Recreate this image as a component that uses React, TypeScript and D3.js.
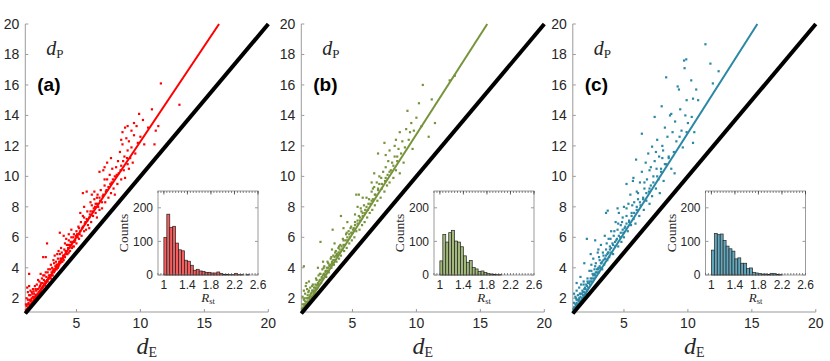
import React from "react";
import * as d3 from "d3";

// panel styling
const panelLabels = ["(a)", "(b)", "(c)"];
const lineColors = ["#ff0000", "#77933c", "#2b87a3"];
const histColors = ["#f45e5e", "#a3b97c", "#63a8be"];
// dE at which the fitted line reaches dP = 20
const fitEnds = [16.15, 15.54, 15.43];

// main axes ticks
const xTicks = [5, 10, 15, 20];
const yTicks = [2, 4, 6, 8, 10, 12, 14, 16, 18, 20];

// inset (histogram of R_st)
const binStart = 1.0;
const binWidth = 0.05;
const insetXTicks = [1, 1.4, 1.8, 2.2, 2.6];
const insetYTicks = [0, 100, 200];

const countsA = [112, 181, 142, 145, 95, 75, 72, 44, 41, 29, 14, 17, 12, 11, 8, 8, 6, 6, 9, 5, 2, 2, 1, 1, 5, 1, 1, 0, 1, 0, 0, 0];
const countsB = [42, 121, 98, 126, 133, 101, 98, 84, 57, 38, 43, 22, 18, 10, 12, 7, 4, 3, 2, 1, 1, 0, 0, 0, 0, 0, 0, 0, 0, 0, 0, 0];
const countsC = [74, 124, 120, 122, 103, 86, 78, 71, 48, 51, 35, 35, 19, 21, 8, 6, 4, 3, 3, 2, 5, 4, 2, 1, 0, 0, 0, 0, 0, 0, 0, 0];

// scatter points [dE, dP]
const pointsA: [number, number][] = [
  [1.05, 1.2], [1.1, 1.5], [1.15, 1.3], [1.2, 1.9], [1.25, 1.4], [1.3, 1.6], [1.3, 2.2], [1.35, 1.5], [1.4, 1.8], [1.4, 2.5],
  [1.45, 1.6], [1.5, 2.0], [1.5, 1.7], [1.55, 2.3], [1.6, 1.8], [1.6, 2.6], [1.65, 2.0], [1.7, 1.9], [1.7, 2.3], [1.75, 2.8],
  [1.8, 2.0], [1.8, 2.2], [1.85, 2.5], [1.9, 2.1], [1.9, 2.9], [1.95, 2.3], [2.0, 2.2], [2.0, 2.6], [1.2, 2.4], [1.1, 2.0],
  [1.3, 2.8], [1.15, 2.7], [1.3, 3.6], [2.2, 3.6], [2.0, 3.2],
  [2.05, 2.4], [2.1, 2.7], [2.1, 3.1], [2.15, 2.5], [2.2, 2.9], [2.25, 2.6], [2.3, 3.3], [2.3, 2.7], [2.35, 3.0], [2.4, 2.8],
  [2.45, 3.2], [2.5, 2.9], [2.5, 3.5], [2.55, 3.1], [2.6, 3.0], [2.65, 3.4], [2.7, 3.2], [2.75, 3.7], [2.8, 3.3], [2.85, 3.5],
  [2.9, 3.4], [2.95, 3.9], [3.0, 3.5], [3.0, 3.3], [2.4, 4.7], [2.6, 4.7], [2.7, 5.6],
  [3.05, 3.7], [3.1, 4.0], [3.15, 3.5], [3.2, 3.9], [3.25, 4.3], [3.3, 3.8], [3.35, 4.1], [3.4, 4.4], [3.45, 3.9], [3.5, 4.2],
  [3.55, 4.6], [3.6, 4.1], [3.65, 4.4], [3.7, 4.9], [3.75, 4.3], [3.8, 4.6], [3.85, 5.0], [3.9, 4.4], [3.95, 4.8], [4.0, 4.5],
  [3.7, 6.3], [4.0, 6.1], [3.3, 4.8], [3.6, 5.1],
  [4.05, 5.2], [4.1, 4.7], [4.2, 5.0], [4.25, 5.5], [4.3, 4.9], [4.35, 5.3], [4.4, 5.8], [4.5, 5.1], [4.5, 5.5], [4.6, 6.0],
  [4.65, 5.3], [4.7, 5.7], [4.8, 5.4], [4.8, 6.2], [4.9, 5.8], [5.0, 5.6], [5.0, 6.4], [4.4, 6.2], [4.6, 6.5], [4.2, 5.9],
  [5.1, 6.0], [5.15, 6.7], [5.2, 5.9], [5.3, 6.4], [5.35, 7.0], [5.4, 6.1], [5.5, 6.7], [5.5, 7.4], [5.6, 6.4], [5.7, 7.0],
  [5.75, 6.5], [5.8, 7.2], [5.85, 7.7], [5.9, 6.8], [6.0, 7.3], [6.0, 6.6], [5.5, 8.9], [5.8, 9.0], [5.3, 7.6], [5.6, 8.0],
  [6.1, 7.7], [6.15, 7.0], [6.2, 8.1], [6.3, 7.4], [6.35, 7.9], [6.4, 8.5], [6.5, 7.6], [6.5, 8.2], [6.6, 7.3], [6.65, 8.8],
  [6.7, 8.0], [6.8, 7.8], [6.8, 8.6], [6.9, 9.1], [7.0, 8.3], [7.0, 7.9], [6.8, 10.3], [7.1, 10.4], [6.4, 9.0], [6.2, 8.8],
  [7.1, 8.8], [7.2, 9.4], [7.25, 8.3], [7.3, 9.0], [7.4, 9.8], [7.5, 8.6], [7.5, 9.3], [7.6, 10.1], [7.7, 8.9], [7.75, 9.6],
  [7.8, 10.5], [7.9, 9.2], [8.0, 10.0], [8.0, 8.8], [7.4, 10.9], [7.7, 11.2], [7.2, 10.6],
  [8.1, 10.6], [8.2, 9.5], [8.25, 11.0], [8.3, 10.2], [8.4, 11.6], [8.5, 9.8], [8.5, 10.7], [8.6, 12.1], [8.7, 10.4], [8.75, 11.3],
  [8.8, 9.9], [8.9, 12.5], [9.0, 10.8], [9.0, 11.7], [8.6, 12.9], [8.8, 13.2], [8.5, 12.4],
  [9.1, 10.5], [9.1, 12.3], [9.2, 11.2], [9.3, 13.0], [9.3, 11.9], [9.4, 10.9], [9.5, 12.7], [9.6, 11.5], [9.7, 13.3], [9.8, 12.2],
  [9.9, 14.1], [10.0, 12.6], [9.0, 13.3], [10.2, 13.7], [9.5, 13.5],
  [10.3, 12.1], [10.9, 14.4], [11.1, 12.1], [11.2, 13.0], [11.4, 13.3], [11.6, 16.1], [13.05, 14.7], [10.6, 13.2],
];
// the dense band close to the fitted line
const denseA: [number, number][] = [
  [1.1, 1.25], [1.2, 1.35], [1.25, 1.7], [1.35, 1.9], [1.45, 1.9], [1.55, 1.75], [1.6, 2.1], [1.75, 2.1], [1.85, 2.2], [1.95, 2.6],
  [2.05, 2.3], [2.15, 2.8], [2.25, 3.0], [2.35, 2.7], [2.45, 2.9], [2.55, 2.85], [2.65, 3.1], [2.75, 3.1], [2.85, 3.3], [2.95, 3.5],
  [3.05, 3.5], [3.15, 3.8], [3.25, 3.7], [3.35, 3.9], [3.45, 4.2], [3.55, 4.0], [3.65, 4.2], [3.75, 4.6], [3.85, 4.4], [3.95, 4.6],
  [4.05, 4.8], [4.15, 5.1], [4.25, 4.9], [4.35, 5.5], [4.45, 5.3], [4.55, 5.7], [4.65, 5.6], [4.75, 6.0], [4.85, 5.7], [4.95, 6.1],
  [5.05, 6.2], [5.25, 6.2], [5.45, 6.6], [5.65, 6.9], [5.85, 7.1], [6.05, 7.5], [6.25, 7.7], [6.45, 8.0], [6.6, 8.2], [6.85, 8.4],
  [7.05, 8.7], [7.35, 9.1], [7.65, 9.5], [7.85, 9.8], [8.15, 10.1], [8.45, 10.4], [8.65, 11.0], [8.95, 11.2], [1.05, 1.6], [1.2, 1.6],
  [1.4, 2.2], [1.5, 2.4], [1.65, 2.45], [1.8, 2.6], [2.2, 2.4], [2.4, 3.5], [2.6, 3.7], [2.8, 3.9], [3.0, 4.2], [3.2, 4.5],
  [3.5, 4.9], [3.8, 5.3], [4.1, 5.6], [4.4, 5.0], [4.7, 5.4], [5.2, 6.6], [5.6, 7.3], [6.1, 8.3], [6.6, 8.6], [7.2, 9.8],
];

const pointsB: [number, number][] = [
  [1.05, 1.3], [1.1, 1.6], [1.15, 1.4], [1.2, 1.9], [1.25, 1.5], [1.3, 1.8], [1.3, 2.3], [1.35, 1.6], [1.4, 2.0], [1.45, 2.6],
  [1.5, 1.8], [1.5, 2.2], [1.55, 2.0], [1.6, 2.5], [1.65, 2.1], [1.7, 1.9], [1.7, 2.7], [1.75, 2.3], [1.8, 2.1], [1.85, 2.5],
  [1.9, 2.9], [1.95, 2.4], [2.0, 2.3], [2.0, 2.7], [1.2, 2.5], [1.4, 3.0], [1.2, 4.1], [1.6, 3.1], [1.1, 2.1], [1.35, 2.8],
  [2.05, 2.5], [2.1, 2.9], [2.15, 2.6], [2.2, 3.2], [2.25, 2.7], [2.3, 3.0], [2.35, 3.5], [2.4, 2.9], [2.45, 3.2], [2.5, 3.6],
  [2.55, 3.0], [2.6, 3.4], [2.65, 3.9], [2.7, 3.3], [2.75, 3.6], [2.8, 4.1], [2.85, 3.5], [2.9, 3.8], [2.95, 3.4], [3.0, 4.0],
  [2.5, 5.7], [2.3, 4.0], [2.7, 4.4],
  [3.05, 3.8], [3.1, 4.3], [3.15, 3.7], [3.2, 4.1], [3.3, 4.6], [3.35, 4.0], [3.4, 4.3], [3.45, 6.5], [3.5, 4.8], [3.55, 4.2],
  [3.6, 4.5], [3.7, 5.1], [3.75, 4.4], [3.8, 4.8], [3.9, 5.3], [3.95, 4.6], [4.0, 5.0], [3.4, 5.2], [3.6, 5.6],
  [4.05, 5.5], [4.1, 4.8], [4.1, 7.4], [4.2, 5.2], [4.3, 5.8], [4.35, 5.1], [4.4, 5.5], [4.5, 6.2], [4.55, 5.3], [4.6, 5.8],
  [4.7, 6.4], [4.75, 5.6], [4.8, 6.0], [4.9, 6.7], [4.95, 5.8], [5.0, 6.3], [4.6, 7.0], [4.3, 6.6],
  [5.1, 6.6], [5.15, 6.0], [5.2, 7.0], [5.3, 6.4], [5.3, 8.8], [5.4, 6.9], [5.5, 8.8], [5.5, 7.4], [5.55, 6.5], [5.6, 7.1],
  [5.7, 7.7], [5.75, 6.8], [5.8, 7.4], [5.9, 8.1], [5.95, 7.0], [6.0, 7.6], [5.4, 8.0], [5.8, 8.6],
  [6.1, 8.0], [6.15, 7.3], [6.2, 7.8], [6.3, 8.5], [6.35, 7.6], [6.4, 8.2], [6.5, 9.0], [6.55, 7.8], [6.6, 8.5], [6.7, 9.3],
  [6.7, 10.2], [6.75, 8.1], [6.8, 8.8], [6.9, 9.6], [6.95, 8.4], [7.0, 9.1], [7.0, 11.5], [6.5, 9.6],
  [7.1, 9.5], [7.2, 8.6], [7.25, 9.9], [7.3, 9.2], [7.4, 10.3], [7.5, 12.2], [7.5, 9.0], [7.55, 9.7], [7.6, 10.6], [7.7, 9.4],
  [7.75, 10.1], [7.8, 11.0], [7.9, 9.6], [8.0, 10.4], [7.6, 11.4], [7.9, 11.7],
  [8.1, 10.9], [8.2, 9.9], [8.3, 11.3], [8.4, 12.4], [8.4, 10.4], [8.5, 11.0], [8.6, 11.8], [8.7, 10.2], [8.8, 11.5], [8.9, 12.3],
  [9.0, 10.9], [8.3, 12.0], [8.7, 12.9],
  [9.1, 11.9], [9.2, 13.1], [9.3, 14.3], [9.4, 12.4], [9.6, 13.5], [9.7, 11.8], [9.8, 13.0], [10.0, 13.85], [10.2, 14.8], [10.5, 16.0],
  [10.96, 12.6], [11.2, 15.05], [11.45, 13.5], [12.6, 16.3], [13.0, 16.6], [9.5, 12.9], [10.4, 13.3],
];
const denseB: [number, number][] = [
  [1.1, 1.35], [1.2, 1.6], [1.3, 1.6], [1.4, 1.75], [1.5, 2.0], [1.6, 2.0], [1.7, 2.2], [1.8, 2.35], [1.9, 2.5], [2.0, 2.5],
  [2.1, 2.7], [2.2, 2.85], [2.3, 2.9], [2.4, 3.1], [2.5, 3.2], [2.6, 3.3], [2.7, 3.5], [2.8, 3.6], [2.9, 3.7], [3.0, 3.8],
  [3.1, 4.0], [3.2, 4.2], [3.3, 4.2], [3.4, 4.4], [3.5, 4.5], [3.6, 4.7], [3.7, 4.8], [3.8, 4.9], [3.9, 5.0], [4.0, 5.2],
  [4.15, 5.4], [4.3, 5.5], [4.45, 5.8], [4.6, 6.0], [4.75, 6.2], [4.9, 6.3], [5.05, 6.5], [5.2, 6.8], [5.4, 7.1], [5.6, 7.3],
  [5.8, 7.6], [6.0, 7.8], [6.25, 8.2], [6.5, 8.4], [6.75, 8.8], [7.0, 9.2], [7.3, 9.5], [7.6, 9.9], [7.9, 10.3], [8.2, 10.7],
  [8.5, 11.3], [1.25, 2.0], [1.55, 2.4], [1.85, 2.8], [2.15, 3.3], [2.45, 3.6], [2.75, 4.0], [3.05, 4.4], [3.35, 4.7], [3.65, 5.0],
  [3.95, 5.4], [4.25, 5.9], [4.55, 6.3], [4.85, 6.6], [5.2, 7.5], [5.65, 7.9], [6.1, 8.6], [6.6, 9.2], [7.1, 10.0],
];

const pointsC: [number, number][] = [
  [1.05, 1.3], [1.1, 1.7], [1.15, 1.4], [1.2, 2.1], [1.25, 1.5], [1.3, 1.9], [1.3, 2.5], [1.35, 1.6], [1.4, 2.2], [1.45, 1.8],
  [1.5, 2.7], [1.5, 2.0], [1.55, 1.8], [1.6, 2.3], [1.65, 2.9], [1.7, 2.0], [1.75, 2.5], [1.8, 2.2], [1.85, 3.1], [1.9, 2.4],
  [1.9, 4.3], [1.95, 2.7], [2.0, 2.3], [1.3, 3.0], [1.6, 3.4], [1.1, 2.3],
  [2.05, 2.9], [2.1, 5.9], [2.1, 2.5], [2.15, 3.3], [2.2, 2.7], [2.25, 3.0], [2.3, 3.8], [2.35, 2.9], [2.4, 3.3], [2.45, 4.2],
  [2.5, 3.1], [2.55, 3.6], [2.6, 4.6], [2.65, 3.3], [2.7, 3.9], [2.75, 5.8], [2.75, 3.5], [2.8, 4.3], [2.9, 3.7], [2.95, 5.0],
  [3.0, 4.0], [3.0, 5.2], [2.4, 4.9],
  [3.05, 3.7], [3.1, 4.5], [3.15, 4.0], [3.2, 5.5], [3.25, 4.3], [3.3, 3.9], [3.4, 4.8], [3.45, 4.2], [3.5, 6.1], [3.55, 4.6],
  [3.6, 7.6], [3.6, 5.2], [3.7, 4.5], [3.73, 7.75], [3.75, 5.0], [3.8, 5.9], [3.85, 4.7], [3.9, 5.4], [4.0, 6.4], [4.0, 5.0],
  [4.1, 5.6], [4.15, 4.9], [4.2, 6.1], [4.3, 5.4], [4.35, 7.0], [4.4, 5.8], [4.5, 6.5], [4.55, 5.4], [4.6, 7.6], [4.7, 6.0],
  [4.75, 6.8], [4.8, 5.7], [4.9, 7.3], [4.95, 6.3], [5.0, 8.0], [5.0, 6.0], [4.5, 7.9],
  [5.1, 6.7], [5.2, 9.5], [5.2, 7.4], [5.3, 6.4], [5.35, 8.2], [5.4, 7.0], [5.5, 8.8], [5.55, 6.8], [5.6, 7.6], [5.7, 9.7],
  [5.74, 9.9], [5.75, 7.2], [5.8, 8.3], [5.9, 6.9], [5.95, 11.1], [6.0, 7.8], [6.0, 9.0],
  [6.1, 8.5], [6.2, 7.4], [6.25, 9.6], [6.3, 8.1], [6.4, 12.8], [6.4, 10.3], [6.5, 8.6], [6.55, 7.8], [6.6, 9.2], [6.7, 10.9],
  [6.75, 8.4], [6.8, 9.8], [6.9, 11.5], [6.95, 9.0], [7.0, 8.2], [7.0, 10.4],
  [7.1, 9.4], [7.2, 11.95], [7.2, 8.7], [7.3, 10.0], [7.4, 13.9], [7.4, 11.0], [7.5, 9.2], [7.55, 10.5], [7.6, 12.4], [7.7, 9.8],
  [7.75, 11.3], [7.8, 8.9], [7.95, 14.6], [7.9, 10.3], [8.0, 12.0],
  [8.06, 11.7], [8.1, 9.7], [8.2, 13.2], [8.3, 16.5], [8.3, 10.8], [8.4, 12.6], [8.5, 11.3], [8.6, 14.0], [8.7, 14.1], [8.7, 10.5],
  [8.8, 12.9], [8.9, 11.6], [8.96, 10.2], [9.0, 13.6],
  [9.1, 12.3], [9.2, 15.9], [9.3, 15.7], [9.35, 12.6], [9.4, 14.4], [9.5, 13.0], [9.6, 11.9], [9.7, 17.6], [9.74, 17.1], [9.8, 14.0],
  [9.87, 17.68], [9.9, 15.0], [9.9, 12.9], [10.0, 13.5],
  [10.26, 16.3], [10.4, 15.1], [10.4, 12.2], [10.3, 13.9], [10.65, 15.7], [10.8, 15.0], [10.5, 12.9], [11.37, 18.67], [11.76, 17.4],
  [11.95, 16.1], [12.4, 16.9],
];
const denseC: [number, number][] = [
  [1.1, 1.4], [1.2, 1.6], [1.3, 1.7], [1.4, 1.9], [1.5, 1.9], [1.6, 2.1], [1.7, 2.3], [1.8, 2.4], [1.9, 2.6], [2.0, 2.6],
  [2.1, 2.8], [2.2, 3.0], [2.3, 3.1], [2.4, 3.1], [2.5, 3.3], [2.6, 3.5], [2.7, 3.6], [2.8, 3.7], [2.9, 3.9], [3.0, 3.9],
  [3.1, 4.1], [3.2, 4.3], [3.3, 4.4], [3.4, 4.5], [3.5, 4.6], [3.6, 4.8], [3.7, 4.9], [3.8, 5.0], [3.9, 5.2], [4.0, 5.3],
  [4.15, 5.5], [4.3, 5.7], [4.45, 5.9], [4.6, 6.1], [4.75, 6.3], [4.9, 6.5], [5.05, 6.6], [5.2, 6.9], [5.4, 7.1], [5.6, 7.4],
  [5.8, 7.6], [6.0, 8.0], [6.25, 8.3], [6.5, 8.5], [6.75, 8.9], [7.0, 9.2], [7.3, 9.6], [7.6, 10.0], [7.9, 10.5], [8.2, 10.8],
  [8.5, 11.2], [1.25, 2.0], [1.55, 2.3], [1.85, 2.9], [2.15, 3.1], [2.45, 3.8], [2.75, 4.1], [3.05, 4.7], [3.35, 5.0], [3.65, 5.6],
  [3.95, 5.9], [4.25, 6.4], [4.55, 6.9], [4.85, 7.0], [5.2, 7.9], [5.65, 8.1], [6.1, 8.9], [6.6, 9.6], [7.1, 10.6], [7.5, 11.6],
  [8.0, 11.2],
];

const allPoints = [pointsA.concat(denseA), pointsB.concat(denseB), pointsC.concat(denseC)];
const allCounts = [countsA, countsB, countsC];
const panelLefts = [25.3, 301.3, 572.8];

const axisGray = "#9b9b9b";
const textDark = "#262626";
const sans = "Liberation Sans, Arial, sans-serif";
const serif = "Liberation Serif, serif";

function Panel({ i }: { i: number }) {
  const left = panelLefts[i];
  const x = d3.scaleLinear().domain([1, 20]).range([left, left + 243]);
  const y = d3.scaleLinear().domain([1, 20]).range([313.5, 24]);
  const bottom = 312;

  const iLeft = left + 132.7;
  const ix = d3.scaleLinear().domain([0.9, 2.6]).range([iLeft, iLeft + 100]);
  const iy = d3.scaleLinear().domain([0, 250]).range([275, 191]);
  const counts = allCounts[i];
  const minor = d3.range(0.9, 2.6001, 0.05);

  const line = d3.line<[number, number]>().x((d) => x(d[0])).y((d) => y(d[1]));
  const color = lineColors[i];

  return (
    <g>
      {/* axes */}
      <line x1={left} x2={left} y1={24} y2={bottom} stroke={axisGray} strokeWidth={1} />
      <line x1={left} x2={x(20)} y1={bottom} y2={bottom} stroke={axisGray} strokeWidth={1} />
      {yTicks.map((t) => (
        <g key={"y" + t}>
          <line x1={left} x2={left + 3} y1={y(t)} y2={y(t)} stroke={axisGray} />
          <text x={left - 6} y={y(t) + 5} textAnchor="end" fontSize={14} fill={textDark} fontFamily={sans}>
            {t}
          </text>
        </g>
      ))}
      {xTicks.map((t) => (
        <g key={"x" + t}>
          <line x1={x(t)} x2={x(t)} y1={bottom} y2={bottom - 3} stroke={axisGray} />
          <text x={x(t)} y={328} textAnchor="middle" fontSize={14} fill={textDark} fontFamily={sans}>
            {t}
          </text>
        </g>
      ))}
      <text x={x(10.5)} y={354} textAnchor="middle" fontSize={24} fill={textDark} fontFamily={serif} fontStyle="italic">
        d<tspan fontStyle="normal" fontSize={14} dy={3}>E</tspan>
      </text>
      <text x={left + 21} y={55} fontSize={20} fill={textDark} fontFamily={serif} fontStyle="italic">
        d<tspan fontStyle="normal" fontSize={13} dy={2.5}>P</tspan>
      </text>
      <text x={left + 12} y={91} fontSize={19} fontWeight="bold" fill="#000" fontFamily={sans}>
        {panelLabels[i]}
      </text>

      {/* scatter */}
      {allPoints[i].map((p, k) => (
        <rect key={k} x={x(p[0]) - 1.1} y={y(p[1]) - 1.1} width={2.2} height={2.2} fill={color} />
      ))}
      {/* fitted line and identity line */}
      <path d={line([[1, 1], [fitEnds[i], 20]]) || ""} stroke={color} strokeWidth={2} fill="none" />
      <path d={line([[1, 1], [20, 20]]) || ""} stroke="#000" strokeWidth={4} fill="none" />

      {/* inset histogram */}
      <rect x={iLeft} y={iy(250)} width={100} height={iy(0) - iy(250)} fill="#fff" stroke={axisGray} strokeWidth={1} />
      {counts.map((c, k) =>
        c > 0 ? (
          <rect
            key={k}
            x={ix(binStart + k * binWidth)}
            y={iy(c)}
            width={ix(binStart + (k + 1) * binWidth) - ix(binStart + k * binWidth)}
            height={iy(0) - iy(c)}
            fill={histColors[i]}
            stroke="#222"
            strokeWidth={0.7}
          />
        ) : null
      )}
      {minor.map((t, k) => (
        <g key={"m" + k}>
          <line x1={ix(t)} x2={ix(t)} y1={iy(250)} y2={iy(250) + 2} stroke="#555" strokeWidth={0.7} />
          <line x1={ix(t)} x2={ix(t)} y1={iy(0)} y2={iy(0) - 2} stroke="#555" strokeWidth={0.7} />
        </g>
      ))}
      {insetXTicks.map((t) => (
        <g key={"ix" + t}>
          <line x1={ix(t)} x2={ix(t)} y1={iy(250)} y2={iy(250) + 3.5} stroke="#444" strokeWidth={0.8} />
          <text x={ix(t)} y={288.5} textAnchor="middle" fontSize={12} fill={textDark} fontFamily={sans}>
            {t}
          </text>
        </g>
      ))}
      {insetYTicks.map((t) => (
        <g key={"iy" + t}>
          <line x1={iLeft} x2={iLeft + 3} y1={iy(t)} y2={iy(t)} stroke={axisGray} />
          <line x1={iLeft + 100} x2={iLeft + 97} y1={iy(t)} y2={iy(t)} stroke={axisGray} />
          <text x={iLeft - 5} y={iy(t) + 4.3} textAnchor="end" fontSize={12} fill={textDark} fontFamily={sans}>
            {t}
          </text>
        </g>
      ))}
      <text
        transform={`translate(${iLeft - 30},${iy(125)}) rotate(-90)`}
        textAnchor="middle"
        fontSize={13.5}
        fill={textDark}
        fontFamily={serif}
      >
        Counts
      </text>
      <text x={ix(1.75)} y={302} textAnchor="middle" fontSize={13} fill={textDark} fontFamily={serif} fontStyle="italic">
        R<tspan fontStyle="normal" fontSize={8.5} dy={2}>st</tspan>
      </text>
    </g>
  );
}

export default function App() {
  return (
    <svg width={830} height={361} style={{ position: "absolute", left: 0, top: 0, background: "#fff" }}>
      {[0, 1, 2].map((i) => (
        <Panel key={i} i={i} />
      ))}
    </svg>
  );
}
